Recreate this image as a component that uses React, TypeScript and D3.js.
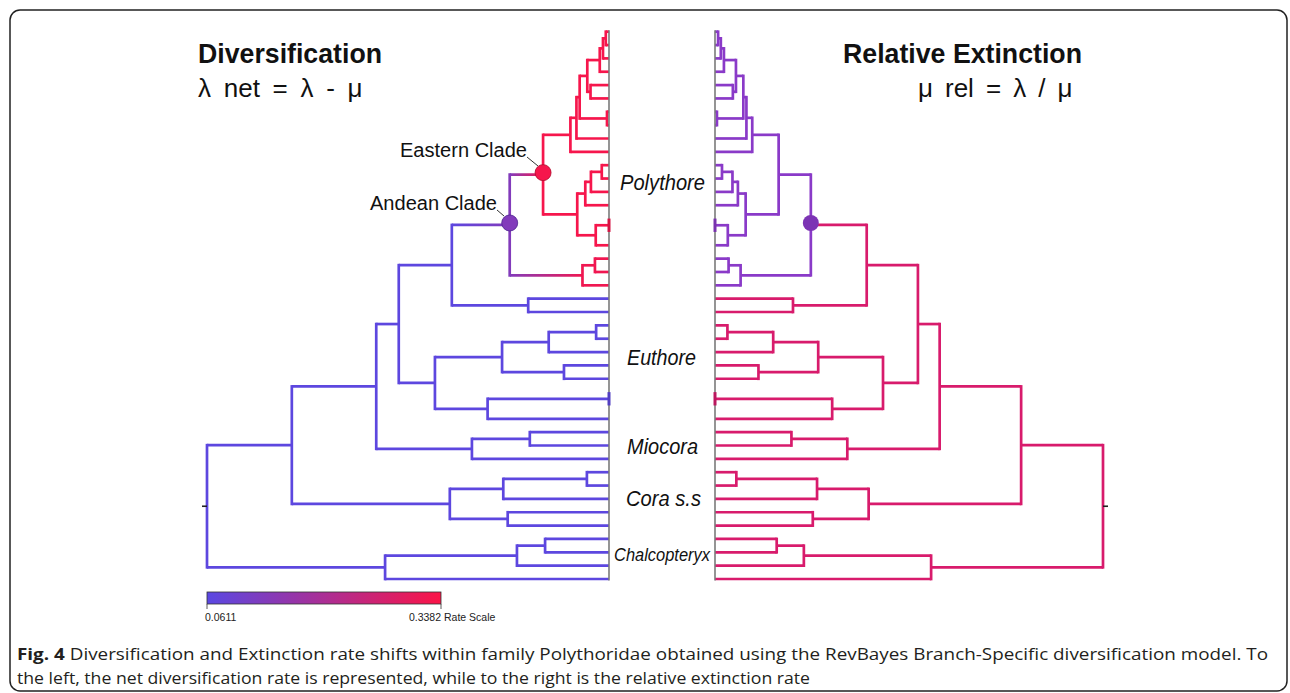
import React from "react";
import * as d3 from "d3";

const W = 1290;
const H = 693;

// ---- data ----
const cladeNames = ["Polythore", "Euthore", "Miocora", "Cora s.s", "Chalcopteryx"];
const cladeTipCounts = [22, 8, 3, 5, 4];

// internal nodes n1..n41 (children: tips "t#" in top-to-bottom order, or nodes "n#")
const nodeChildren: [string, string][] = [
  ["t0", "t1"], ["n1", "t2"], ["n2", "t3"], ["t4", "t5"], ["n3", "n4"],
  ["t6", "t7"], ["n5", "n6"], ["n7", "t8"], ["n8", "t9"], ["t10", "t11"],
  ["n10", "t12"], ["n11", "t13"], ["t14", "t15"], ["n13", "t16"], ["n12", "n14"],
  ["n9", "n15"], ["t17", "t18"], ["n17", "t19"], ["n16", "n18"], ["t20", "t21"],
  ["n19", "n20"], ["t22", "t23"], ["n22", "t24"], ["t25", "t26"], ["n23", "n24"],
  ["t27", "t28"], ["n26", "t29"], ["n25", "n27"], ["n21", "n28"], ["t30", "t31"],
  ["n30", "t32"], ["n29", "n31"], ["t33", "t34"], ["n33", "t35"], ["t36", "t37"],
  ["n34", "n35"], ["n32", "n36"], ["t38", "t39"], ["n38", "t40"], ["n39", "t41"],
  ["n37", "n40"],
];
// relative node age (root = 100)
const nodeAge = [
  0.8, 1.5, 2.3, 4.6, 5.4, 0.5, 7.3, 8.1, 9.6, 1.8,
  4.5, 5.9, 0, 3.3, 7.9, 16.4, 3.5, 6.6, 24.7, 20.1,
  39.1, 3.2, 15.0, 11.2, 26.6, 0, 30.2, 43.3, 52.3, 19.7,
  34.1, 57.9, 5.5, 26.3, 25.2, 39.6, 78.9, 15.9, 22.9, 55.7,
  100,
];
// net diversification rate per node
const netDiversification = [
  0.33, 0.33, 0.33, 0.33, 0.33, 0.33, 0.33, 0.33, 0.33, 0.33,
  0.33, 0.33, 0.33, 0.33, 0.33, 0.33, 0.32, 0.32, 0.13, 0.066,
  0.066, 0.066, 0.066, 0.066, 0.066, 0.066, 0.066, 0.066, 0.066, 0.066,
  0.066, 0.066, 0.066, 0.066, 0.066, 0.066, 0.066, 0.066, 0.066, 0.066,
  0.066,
];
// relative extinction per node
const relativeExtinction = [
  0.55, 0.55, 0.55, 0.55, 0.55, 0.55, 0.55, 0.55, 0.55, 0.55,
  0.55, 0.55, 0.55, 0.55, 0.55, 0.55, 0.55, 0.55, 0.55, 0.9,
  0.9, 0.9, 0.9, 0.9, 0.9, 0.9, 0.9, 0.9, 0.9, 0.9,
  0.9, 0.9, 0.9, 0.9, 0.9, 0.9, 0.9, 0.9, 0.9, 0.9,
  0.9,
];
const rateScaleTicks = [0.0611, 0.3382];

type TNode = { id: string; y: number; age: number; div: number; ext: number; children: string[] };

const FONT = "'Liberation Sans', Arial, Helvetica, sans-serif";

function buildNodes(yScale: d3.ScaleLinear<number, number>, nTips: number) {
  const nodes: Record<string, TNode> = {};
  for (let i = 0; i < nTips; i++) nodes["t" + i] = { id: "t" + i, y: yScale(i), age: 0, div: 0, ext: 0, children: [] };
  nodeChildren.forEach(([a, b], k) => {
    const id = "n" + (k + 1);
    nodes[id] = {
      id,
      y: (nodes[a].y + nodes[b].y) / 2,
      age: nodeAge[k],
      div: netDiversification[k],
      ext: relativeExtinction[k],
      children: [a, b],
    };
    [a, b].forEach((c) => {
      if (c[0] === "t") {
        nodes[c].div = netDiversification[k];
        nodes[c].ext = relativeExtinction[k];
      }
    });
  });
  return nodes;
}

function Tree(props: {
  nodes: Record<string, TNode>;
  x: d3.ScaleLinear<number, number>;
  colorOf: (n: TNode) => string;
  gradient: boolean;
  prefix: string;
  axisTop: number;
  axisBottom: number;
}) {
  const { nodes, x, colorOf, gradient, prefix, axisTop, axisBottom } = props;
  const SW = 2.7;
  const internal = nodeChildren.map((_, k) => nodes["n" + (k + 1)]);
  const horiz: any[] = [];
  const vert: any[] = [];
  const zeroVert: any[] = [];
  internal.forEach((n) => {
    const cs = n.children.map((c) => nodes[c]);
    const v = {
      key: prefix + n.id,
      x: x(n.age),
      y1: Math.min(cs[0].y, cs[1].y),
      y2: Math.max(cs[0].y, cs[1].y),
      color: colorOf(n),
    };
    (n.age === 0 ? zeroVert : vert).push(v);
    cs.forEach((c) => {
      if (n.age === c.age) return;
      const c1 = colorOf(n);
      const c2 = gradient ? colorOf(c) : c1;
      horiz.push({ key: prefix + n.id + c.id, x1: x(n.age), x2: x(c.age), y: c.y, c1, c2 });
    });
  });
  const root = nodes["n" + nodeChildren.length];
  const rx = x(root.age);
  const dir = x(100) < x(0) ? -1 : 1;
  return (
    <g>
      <defs>
        {horiz
          .filter((h) => h.c1 !== h.c2)
          .map((h) => (
            <linearGradient key={h.key} id={h.key} gradientUnits="userSpaceOnUse" x1={h.x1} y1={h.y} x2={h.x2} y2={h.y}>
              <stop offset="0%" stopColor={h.c1} />
              <stop offset="100%" stopColor={h.c2} />
            </linearGradient>
          ))}
      </defs>
      {horiz.map((h) => (
        <line key={h.key} x1={h.x1} x2={h.x2} y1={h.y} y2={h.y}
          stroke={h.c1 !== h.c2 ? `url(#${h.key})` : h.c1} strokeWidth={SW} strokeLinecap="butt" />
      ))}
      {vert.map((v) => (
        <line key={v.key} x1={v.x} x2={v.x} y1={v.y1} y2={v.y2} stroke={v.color} strokeWidth={SW} strokeLinecap="square" />
      ))}
      <line x1={x(0)} x2={x(0)} y1={axisTop} y2={axisBottom} stroke="#7a7a7a" strokeWidth={1.6} />
      {zeroVert.map((v) => (
        <line key={v.key} x1={v.x} x2={v.x} y1={v.y1} y2={v.y2} stroke={d3.color(v.color)!.darker(0.4).toString()} strokeWidth={3} />
      ))}
      <line x1={rx} x2={rx + dir * 5} y1={root.y} y2={root.y} stroke="#222" strokeWidth={1.6} />
    </g>
  );
}

export default function App() {
  const nTips = d3.sum(cladeTipCounts);
  const yScale = d3.scaleLinear().domain([0, nTips - 1]).range([31.7, 579]);
  const xLeft = d3.scaleLinear().domain([0, 100]).range([609, 207]);
  const xRight = d3.scaleLinear().domain([0, 100]).range([715, 1103]);
  const colorDiv = d3.scaleLinear<string>().domain(rateScaleTicks).range(["#5a48e2", "#fb1447"]).interpolate(d3.interpolateRgb);
  const colorExt = d3.scaleLinear<string>().domain([0.55, 0.9]).range(["#8a3ac8", "#d81b6c"]).interpolate(d3.interpolateRgb);

  const nodes = buildNodes(yScale, nTips);
  const eastern = nodes["n16"];
  const andean = nodes["n19"];

  // clade label positions (centre of each clade's tips)
  const cladeLabelY = [190, 365, 454, 506, 561];
  const cladeLabelX = [620, 627, 627, 626, 614];
  const cladeLabelLen = [85, 69, 71, 75, 96];
  const cladeLabelSize = [22, 22, 22, 22, 18];

  const barScale = d3.scaleLinear().domain(rateScaleTicks).range([207, 441]);
  const barStops = d3.range(0, 1.0001, 0.1).map((t) => {
    const v = rateScaleTicks[0] + t * (rateScaleTicks[1] - rateScaleTicks[0]);
    return { off: t * 100, color: colorDiv(v) };
  });

  return (
    <svg width={W} height={H} viewBox={`0 0 ${W} ${H}`}
      style={{ position: "absolute", left: 0, top: 0, display: "block", background: "#fff" }}>
      <rect x={0} y={0} width={W} height={H} fill="#fff" />
      <rect x={10} y={10} width={1277} height={681} rx={10} ry={10} fill="none" stroke="#222" strokeWidth={1.5} />

      {/* titles */}
      <text x={198} y={63} fontFamily={FONT} fontWeight="bold" fontSize={28} fill="#111" textLength={184} lengthAdjust="spacingAndGlyphs">Diversification</text>
      <text x={198} y={97} fontFamily={FONT} fontSize={26} fill="#111" style={{ wordSpacing: "5.5px" }}>λ net = λ - μ</text>
      <text x={843} y={63} fontFamily={FONT} fontWeight="bold" fontSize={28} fill="#111" textLength={239} lengthAdjust="spacingAndGlyphs">Relative Extinction</text>
      <text x={918} y={97} fontFamily={FONT} fontSize={26} fill="#111" style={{ wordSpacing: "4.8px" }}>μ rel = λ / μ</text>

      <Tree nodes={nodes} x={xLeft} colorOf={(n) => colorDiv(n.div)} gradient={true} prefix="L" axisTop={yScale(0) - 1.5} axisBottom={yScale(nTips - 1) + 1.5} />
      <Tree nodes={nodes} x={xRight} colorOf={(n) => colorExt(n.ext)} gradient={false} prefix="R" axisTop={yScale(0) - 1.5} axisBottom={yScale(nTips - 1) + 1.5} />

      {/* clade annotations */}
      <line x1={527} y1={157} x2={538} y2={166} stroke="#333" strokeWidth={1} />
      <line x1={497} y1={210} x2={504} y2={216} stroke="#333" strokeWidth={1} />
      <circle cx={xLeft(eastern.age)} cy={eastern.y - 2} r={8} fill={colorDiv(eastern.div)} stroke="#b00a2c" strokeWidth={0.8} />
      <circle cx={xLeft(andean.age)} cy={andean.y - 2} r={8} fill={colorDiv(andean.div)} stroke="#4d2390" strokeWidth={0.8} />
      <circle cx={xRight(andean.age)} cy={andean.y - 2} r={8} fill={d3.color(colorExt(andean.ext))!.darker(0.3).toString()} />
      <text x={400} y={157} fontFamily={FONT} fontSize={20} fill="#111" textLength={127} lengthAdjust="spacingAndGlyphs">Eastern Clade</text>
      <text x={370} y={210} fontFamily={FONT} fontSize={20} fill="#111" textLength={127} lengthAdjust="spacingAndGlyphs">Andean Clade</text>

      {cladeNames.map((name, i) => (
        <text key={name} x={cladeLabelX[i]} y={cladeLabelY[i]} fontFamily={FONT} fontStyle="italic" fontSize={cladeLabelSize[i]} fill="#111"
          textLength={cladeLabelLen[i]} lengthAdjust="spacingAndGlyphs">{name}</text>
      ))}

      {/* rate scale */}
      <defs>
        <linearGradient id="rateBar" x1="0%" x2="100%" y1="0%" y2="0%">
          {barStops.map((s) => (
            <stop key={s.off} offset={`${s.off}%`} stopColor={s.color} />
          ))}
        </linearGradient>
      </defs>
      <rect x={barScale(rateScaleTicks[0])} y={592} width={barScale(rateScaleTicks[1]) - barScale(rateScaleTicks[0])} height={12}
        fill="url(#rateBar)" stroke="#333" strokeWidth={0.8} />
      {rateScaleTicks.map((t) => (
        <line key={t} x1={barScale(t)} x2={barScale(t)} y1={604} y2={609} stroke="#333" strokeWidth={0.8} />
      ))}
      <text x={barScale(rateScaleTicks[0]) - 2} y={621} fontFamily={FONT} fontSize={10.5} fill="#222">{rateScaleTicks[0].toFixed(4)}</text>
      <text x={barScale(rateScaleTicks[1])} y={621} fontFamily={FONT} fontSize={10.5} fill="#222" textAnchor="end">{rateScaleTicks[1].toFixed(4)}</text>
      <text x={barScale(rateScaleTicks[1]) + 3} y={621} fontFamily={FONT} fontSize={10.5} fill="#222">Rate Scale</text>

      {/* caption */}
      <text x={17} y={660} fontFamily="'Open Sans', 'Noto Sans', sans-serif" fontSize={16.5} fill="#231f20" textLength={1251} lengthAdjust="spacingAndGlyphs">
        <tspan fontWeight="bold">Fig. 4</tspan>
        {" Diversification and Extinction rate shifts within family Polythoridae obtained using the RevBayes Branch-Specific diversification model. To"}
      </text>
      <text x={17} y={684} fontFamily="'Open Sans', 'Noto Sans', sans-serif" fontSize={16.5} fill="#231f20" textLength={793} lengthAdjust="spacingAndGlyphs">
        the left, the net diversification rate is represented, while to the right is the relative extinction rate
      </text>
    </svg>
  );
}
